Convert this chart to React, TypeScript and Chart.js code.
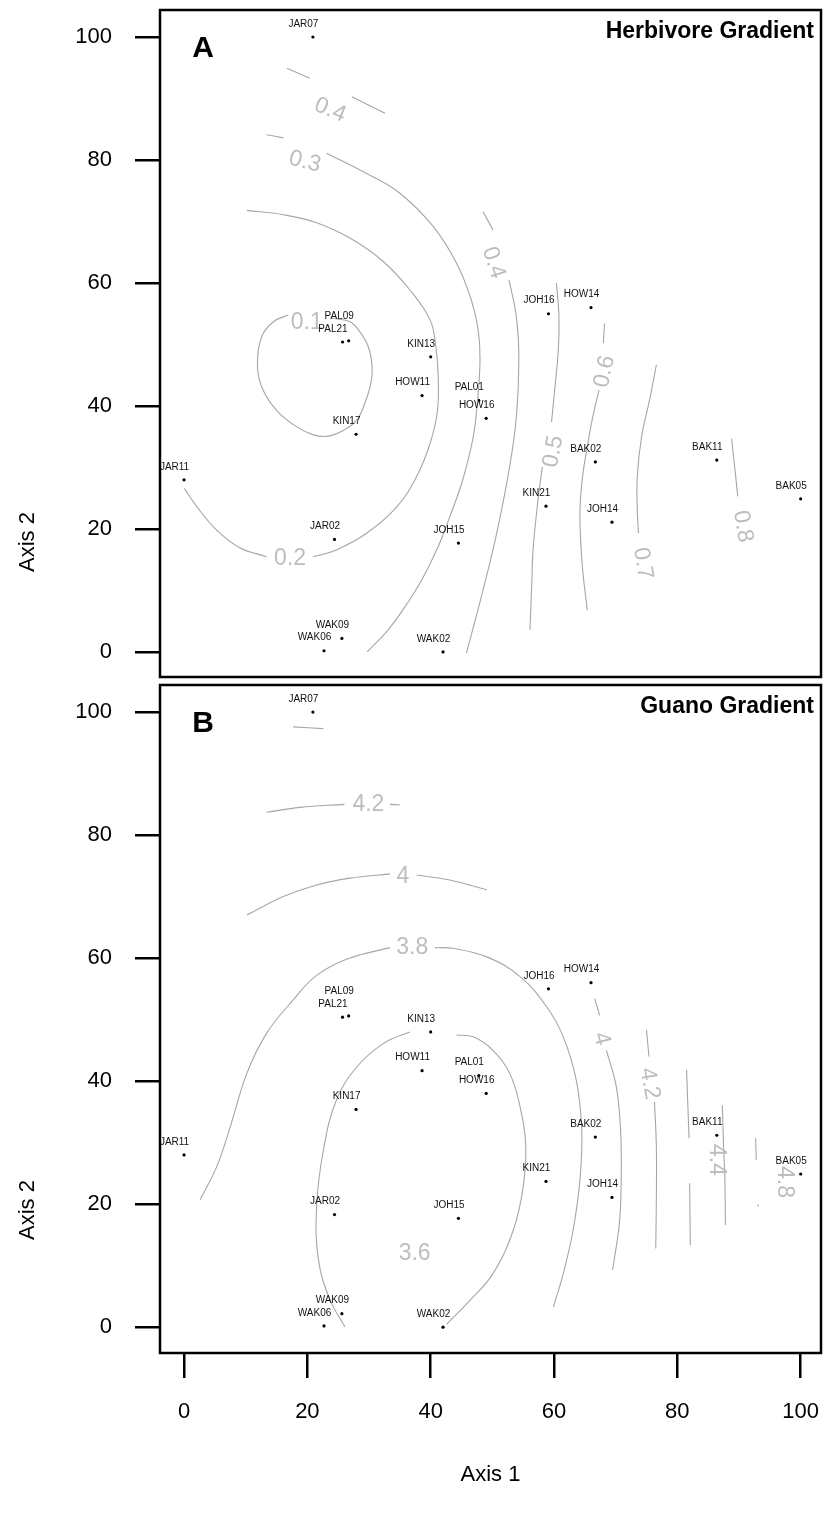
import React, { useEffect, useRef } from "react";
import { Chart, registerables } from "chart.js";

Chart.register(...registerables);

const FONT = '"Liberation Sans", Arial, Helvetica, sans-serif';
const LINE = "#a6a6a6";
const LABEL = "#bdbdbd";

// Sites (ordination scores, both panels)
const sites = ["JAR07", "PAL09", "PAL21", "KIN13", "HOW11", "PAL01", "HOW16", "KIN17", "JOH16", "HOW14", "BAK02", "BAK11", "BAK05", "KIN21", "JOH14", "JOH15", "JAR11", "JAR02", "WAK09", "WAK06", "WAK02"];
const axis1 = [20.9, 26.7, 25.7, 40.0, 38.6, 47.8, 49.0, 27.9, 59.1, 66.0, 66.7, 86.4, 100, 58.7, 69.4, 44.5, 0, 24.4, 25.6, 22.7, 42.0];
const axis2 = [100, 50.6, 50.4, 48.0, 41.7, 40.9, 38.0, 35.4, 55.0, 56.0, 30.9, 31.2, 24.9, 23.7, 21.1, 17.7, 28.0, 18.3, 2.2, 0.2, 0];

const axisTicks = [0, 20, 40, 60, 80, 100];

// Herbivore gradient contour pieces
const herb01 = [[16.9, 54.8], [14.5, 53.7], [12.6, 51.3], [11.9, 46.9], [12.6, 43.1], [15.0, 39.3], [18.3, 36.6], [21.0, 35.3], [23.4, 35.1], [25.8, 36.0], [28.0, 37.7], [29.3, 40.4], [30.3, 43.7], [30.5, 46.4], [29.9, 49.6], [28.5, 52.1], [26.9, 53.7], [23.7, 54.3]];
const herb02a = [[10.2, 71.8], [16.1, 71.1], [21.5, 69.8], [26.9, 67.3], [32.3, 63.5], [36.6, 58.9], [39.9, 54.0], [40.8, 49.9], [41.2, 45.3], [41.1, 39.3], [39.9, 33.9], [37.7, 28.5], [34.5, 23.6], [29.6, 19.3], [24.7, 16.6], [21.0, 15.5]];
const herb02b = [[13.4, 15.5], [9.1, 16.9], [5.3, 19.8], [2.1, 23.6], [0.05, 26.6]];
const herb03a = [[13.4, 84.1], [16.1, 83.6]];
const herb03b = [[23.1, 81.1], [29.6, 77.8], [35.0, 74.6], [40.4, 69.2], [44.2, 63.2], [46.6, 57.2], [47.7, 52.4], [48.0, 47.5], [47.6, 41.0], [46.9, 35.0], [45.2, 28.0], [43.1, 22.0], [41.2, 17.1], [38.7, 12.0], [36.0, 7.6], [33.1, 3.6], [29.7, 0]];
const herb04a = [[16.7, 94.9], [20.4, 93.3]];
const herb04b = [[27.2, 90.3], [32.6, 87.6]];
const herb04c = [[48.5, 71.6], [50.1, 68.6]];
const herb04d = [[52.7, 60.5], [53.9, 54.5], [54.3, 47.5], [53.9, 38.3], [52.8, 30.1], [50.7, 19.3], [48.5, 10.1], [45.8, -0.2]];
const herb05a = [[60.4, 60.0], [60.8, 54.5], [60.7, 49.1], [60.1, 42.6], [59.6, 37.4]];
const herb05b = [[58.1, 30.1], [57.4, 24.7], [56.6, 16.6], [56.4, 11.2], [56.1, 3.6]];
const herb06a = [[68.2, 53.4], [68.0, 50.2]];
const herb06b = [[67.3, 42.6], [66.3, 38.3], [65.3, 32.8], [64.5, 27.4], [64.2, 22.0], [64.6, 13.9], [65.4, 6.8]];
const herb07 = [[76.6, 46.7], [75.5, 41.0], [74.2, 35.0], [73.5, 28.5], [73.5, 23.1], [73.7, 19.3]];
const herb08 = [[88.8, 34.7], [89.3, 30.1], [89.8, 25.3]];

const herbLabelText = ["0.1", "0.2", "0.3", "0.4", "0.4", "0.5", "0.6", "0.7", "0.8"];
const herbLabelX = [19.9, 17.2, 19.6, 23.7, 50.2, 59.9, 68.2, 74.4, 90.6];
const herbLabelY = [53.5, 15.2, 79.7, 88.1, 63.3, 32.6, 45.6, 14.4, 20.4];
const herbLabelAngle = [0, 0, 14, 22, 72, -80, -78, 80, 80];

// Guano gradient contour pieces
const guanoTop = [[17.7, 97.6], [22.6, 97.3]];
const guano42a = [[13.4, 83.7], [18.8, 84.5], [26.0, 85.0]];
const guano42b = [[33.4, 85.0], [35.0, 84.9]];
const guano40a = [[10.2, 67.0], [16.1, 70.0], [21.5, 71.9], [26.9, 73.0], [33.4, 73.7]];
const guano40b = [[37.7, 73.5], [43.1, 72.7], [49.1, 71.1]];
const guano38a = [[33.4, 61.7], [26.9, 60.0], [21.5, 57.2], [17.7, 53.2], [13.4, 47.8], [10.2, 41.3], [7.5, 32.6], [5.3, 26.1], [2.6, 20.7]];
const guano38b = [[40.7, 61.7], [43.6, 61.6], [49.1, 60.2], [54.5, 57.0], [58.8, 52.1], [61.5, 47.2], [63.6, 40.2], [64.5, 32.0], [64.2, 23.9], [63.1, 15.8], [61.5, 8.7], [59.9, 3.3]];
const guano36a = [[36.6, 48.0], [32.3, 46.1], [28.0, 42.3], [24.7, 36.9], [22.6, 28.8], [21.5, 19.6], [21.8, 10.9], [23.7, 4.4], [26.1, 0.05]];
const guano36b = [[44.2, 47.5], [46.9, 47.2], [50.1, 45.0], [52.8, 41.3], [54.5, 35.8], [55.4, 29.9], [55.0, 22.8], [53.4, 15.8], [50.1, 8.7], [46.4, 4.4], [42.6, 0.5]];
const guano40c = [[66.6, 53.4], [67.4, 50.7]];
const guano40d = [[68.5, 45.0], [70.1, 39.1], [70.8, 32.0], [70.9, 23.9], [70.6, 16.9], [69.5, 9.3]];
const guano42c = [[75.0, 48.3], [75.4, 44.0]];
const guano42d = [[76.3, 36.6], [76.6, 29.3], [76.6, 21.2], [76.5, 12.8]];
const guano44a = [[81.5, 41.8], [81.9, 30.7]];
const guano44b = [[82.0, 23.4], [82.1, 13.3]];
const guano46 = [[87.3, 36.1], [87.5, 29.3], [87.7, 24.4], [87.8, 16.6]];
const guano48a = [[92.7, 30.7], [92.8, 27.2]];
const guano48b = [[93.1, 20.0], [93.1, 19.6]];

const guanoLabelText = ["4.2", "4", "3.8", "3.6", "4", "4.2", "4.4", "4.8"];
const guanoLabelX = [29.9, 35.5, 37.0, 37.4, 67.7, 75.5, 86.3, 97.4];
const guanoLabelY = [84.9, 73.3, 61.7, 12.0, 46.9, 39.6, 27.2, 23.6];
const guanoLabelAngle = [0, 0, 0, 0, 75, 80, 90, 90];

const panelA = {
  letter: "A",
  title: "Herbivore Gradient",
  lines: [herb01, herb02a, herb02b, herb03a, herb03b, herb04a, herb04b, herb04c, herb04d, herb05a, herb05b, herb06a, herb06b, herb07, herb08],
  labelText: herbLabelText,
  labelX: herbLabelX,
  labelY: herbLabelY,
  labelAngle: herbLabelAngle,
  yMin: -4.07,
  yMax: 104.39,
  showX: false,
  height: 681,
  padding: { top: 10, right: 3, bottom: 4, left: 0 },
  yTitleOffset: 532,
};

const panelB = {
  letter: "B",
  title: "Guano Gradient",
  lines: [guanoTop, guano42a, guano42b, guano40a, guano40b, guano38a, guano38b, guano36a, guano36b, guano40c, guano40d, guano42c, guano42d, guano44a, guano44b, guano46, guano48a, guano48b],
  labelText: guanoLabelText,
  labelX: guanoLabelX,
  labelY: guanoLabelY,
  labelAngle: guanoLabelAngle,
  yMin: -4.2,
  yMax: 104.4,
  showX: true,
  height: 841,
  padding: { top: 4, right: 3, bottom: 0, left: 0 },
  yTitleOffset: 525,
};

function decoPlugin(p: any) {
  return {
    id: "deco" + p.letter,
    afterDatasetsDraw(chart: any) {
      const { ctx, chartArea: a, scales } = chart;
      const xs = scales.x;
      const ys = scales.y;
      ctx.save();
      ctx.beginPath();
      ctx.rect(a.left, a.top, a.right - a.left, a.bottom - a.top);
      ctx.clip();
      // contour labels
      ctx.fillStyle = LABEL;
      ctx.font = `23px ${FONT}`;
      ctx.textAlign = "center";
      ctx.textBaseline = "middle";
      p.labelText.forEach((t: string, i: number) => {
        const px = xs.getPixelForValue(p.labelX[i]);
        const py = ys.getPixelForValue(p.labelY[i]);
        ctx.save();
        ctx.translate(px, py);
        ctx.rotate((p.labelAngle[i] * Math.PI) / 180);
        ctx.fillText(t, 0, 0);
        ctx.restore();
      });
      // site labels
      const meta = chart.getDatasetMeta(chart.data.datasets.length - 1);
      ctx.fillStyle = "#111";
      ctx.font = `10px ${FONT}`;
      meta.data.forEach((pt: any, i: number) => {
        const lift = sites[i] === "PAL09" ? 12 : 0;
        ctx.fillText(sites[i], pt.x - 9.5, pt.y - 13 - lift);
      });
      ctx.restore();

      ctx.save();
      ctx.strokeStyle = "#000";
      ctx.lineWidth = 2.5;
      ctx.strokeRect(a.left, a.top, a.right - a.left, a.bottom - a.top);
      ctx.fillStyle = "#000";
      ctx.textBaseline = "middle";
      ctx.textAlign = "center";
      ctx.font = `bold 30px ${FONT}`;
      ctx.fillText(p.letter, a.left + 43, a.top + 39);
      ctx.textAlign = "right";
      ctx.font = `bold 23px ${FONT}`;
      ctx.fillText(p.title, a.right - 7, a.top + 22);
      ctx.font = `22px ${FONT}`;
      ctx.translate(28, a.top + p.yTitleOffset);
      ctx.rotate(-Math.PI / 2);
      ctx.textAlign = "center";
      ctx.fillText("Axis 2", 0, 0);
      ctx.restore();
    },
  };
}

function makeConfig(p: any): any {
  const datasets: any[] = p.lines.map((line: number[][]) => ({
    data: line.map(([x, y]) => ({ x, y })),
    showLine: true,
    borderColor: LINE,
    borderWidth: 1.1,
    pointRadius: 0,
    tension: 0.4,
    fill: false,
  }));
  datasets.push({
    data: axis1.map((x, i) => ({ x, y: axis2[i] })),
    showLine: false,
    pointRadius: 1.6,
    pointBackgroundColor: "#000",
    pointBorderColor: "#000",
    pointBorderWidth: 0,
  });
  const tickFont = { family: FONT, size: 22 };
  return {
    type: "scatter",
    data: { datasets },
    options: {
      animation: false,
      responsive: false,
      devicePixelRatio: 1,
      events: [],
      layout: { padding: p.padding },
      plugins: { legend: { display: false }, tooltip: { enabled: false } },
      scales: {
        x: {
          type: "linear",
          min: -3.9,
          max: 103.3,
          display: p.showX,
          afterBuildTicks: (s: any) => {
            s.ticks = axisTicks.map((v) => ({ value: v }));
          },
          afterFit: (s: any) => {
            s.height = p.showX ? 169 : 0;
            s.paddingLeft = 0;
            s.paddingRight = 0;
          },
          grid: { drawOnChartArea: false, drawTicks: true, tickLength: 25, color: "#000", lineWidth: 2.5 },
          border: { display: false },
          ticks: { font: tickFont, color: "#000", padding: 21, maxRotation: 0, autoSkip: false },
          title: { display: true, text: "Axis 1", font: tickFont, color: "#000", padding: { top: 0, bottom: 34 } },
        },
        y: {
          type: "linear",
          min: p.yMin,
          max: p.yMax,
          afterBuildTicks: (s: any) => {
            s.ticks = axisTicks.map((v) => ({ value: v }));
          },
          afterFit: (s: any) => {
            s.width = 160;
            s.paddingTop = 0;
            s.paddingBottom = 0;
          },
          grid: { drawOnChartArea: false, drawTicks: true, tickLength: 25, color: "#000", lineWidth: 2.5 },
          border: { display: false },
          ticks: { font: tickFont, color: "#000", padding: 23, autoSkip: false },
        },
      },
    },
    plugins: [decoPlugin(p)],
  };
}

export default function App() {
  const refA = useRef<HTMLCanvasElement>(null);
  const refB = useRef<HTMLCanvasElement>(null);
  useEffect(() => {
    const ca = new Chart(refA.current as HTMLCanvasElement, makeConfig(panelA));
    const cb = new Chart(refB.current as HTMLCanvasElement, makeConfig(panelB));
    return () => {
      ca.destroy();
      cb.destroy();
    };
  }, []);
  return (
    <div style={{ position: "absolute", left: 0, top: 0, width: 825, height: 1522, background: "#fff" }}>
      <canvas ref={refA} width={825} height={681} style={{ position: "absolute", left: 0, top: 0, width: 825, height: 681 }} />
      <canvas ref={refB} width={825} height={841} style={{ position: "absolute", left: 0, top: 681, width: 825, height: 841 }} />
    </div>
  );
}
